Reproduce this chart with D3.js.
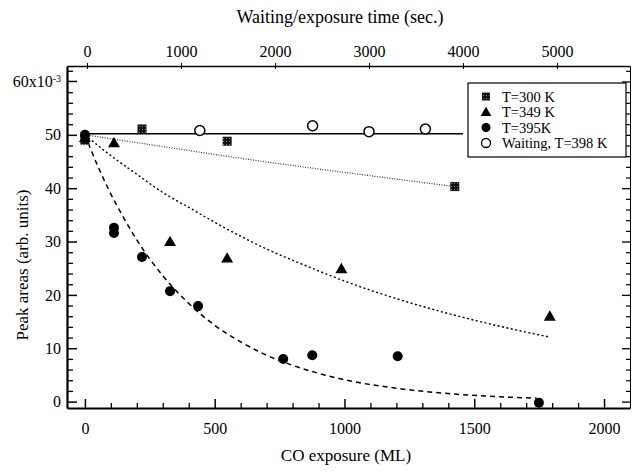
<!DOCTYPE html>
<html>
<head>
<meta charset="utf-8">
<script src="https://cdn.jsdelivr.net/npm/d3@7"></script>
<style>
  body { margin: 0; background: #fff; }
  svg { display: block; font-family: 'Liberation Serif', 'Times New Roman', serif; }
</style>
</head>
<body>
<div id="chart"></div>
<script>
// Tick values
var exposureTicks = [0, 500, 1000, 1500, 2000];
var timeTicks = [0, 1000, 2000, 3000, 4000, 5000];
var yTicks = [0, 10, 20, 30, 40, 50];

// T=300 K (squares), CO exposure in ML
var t300X = [0, 220, 548, 1425];
var t300Y = [49.0, 51.1, 48.8, 40.3];

// T=349 K (triangles)
var t349X = [0, 112, 328, 548, 988, 1791];
var t349Y = [49.5, 48.5, 30.0, 26.9, 24.9, 16.0];

// T=395K (filled circles)
var t395X = [0, 112, 112, 220, 328, 436, 764, 876, 1205, 1749];
var t395Y = [50.0, 31.6, 32.6, 27.1, 20.7, 17.9, 8.0, 8.7, 8.5, -0.2];

// Waiting, T=398 K (open circles), time in seconds
var waitX = [1200, 2400, 3000, 3600];
var waitY = [50.8, 51.7, 50.6, 51.1];

// Fitted curves
var fit300X = [0, 300, 600, 900, 1200, 1425];
var fit300Y = [50.0, 47.8, 45.6, 43.6, 41.7, 40.3];

var fit349X = [0, 100, 200, 300, 400, 500, 600, 700, 800, 900, 1000, 1200, 1400, 1600, 1790];
var fit349Y = [50.0, 46.1, 42.6, 39.2, 36.4, 33.6, 31.0, 28.6, 26.5, 24.5, 22.6, 19.3, 16.5, 14.1, 12.1];

var fit395X = [0, 50, 100, 150, 200, 300, 400, 500, 600, 700, 800, 900, 1000, 1200, 1400, 1600, 1740];
var fit395Y = [50.0, 44.1, 38.9, 34.4, 30.3, 23.6, 18.4, 14.3, 11.2, 8.7, 6.8, 5.3, 4.1, 2.5, 1.5, 0.9, 0.65];

var waitLineX = [0, 4000];
var waitLineY = [50.2, 50.2];

var margin = { top: 66, right: 4, bottom: 64, left: 67 },
  width = 634 - margin.left - margin.right,
  height = 472 - margin.top - margin.bottom;

var svg = d3.select('#chart').append('svg')
  .attr('width', 634)
  .attr('height', 472);

var defs = svg.append('defs');
var pat = defs.append('pattern')
  .attr('id', 'checker')
  .attr('width', 3).attr('height', 3)
  .attr('patternUnits', 'userSpaceOnUse');
pat.append('rect').attr('width', 3).attr('height', 3).attr('fill', '#111');
pat.append('rect').attr('width', 1).attr('height', 1).attr('fill', '#888');

var g = svg.append('g')
  .attr('transform', 'translate(' + margin.left + ',' + margin.top + ')');

var x = d3.scaleLinear().domain([-69, 2100]).range([0, width]);
var xTop = d3.scaleLinear().domain([-213, 5777]).range([0, width]);
var y = d3.scaleLinear().domain([-1.2, 62.9]).range([height, 0]);

var fmt = d3.format('d');

// Axes
var bottomMinor = d3.range(0, 2100, 100).filter(function (d) { return d % 500 !== 0; });
var yMinor = d3.range(0, 63, 2).filter(function (d) { return d % 10 !== 0; });

function styleAxis(sel, w) {
  sel.select('.domain').attr('stroke', '#000').attr('stroke-width', w);
  sel.selectAll('.tick line').attr('stroke', '#000').attr('stroke-width', 1.5);
  sel.selectAll('.tick text').attr('fill', '#000').attr('font-size', '16px')
    .attr('font-family', "'Liberation Serif', serif");
}

var xAxisG = g.append('g')
  .attr('transform', 'translate(0,' + height + ')')
  .call(d3.axisBottom(x).tickValues(exposureTicks).tickFormat(fmt).tickSizeInner(-9).tickSizeOuter(0).tickPadding(15));
styleAxis(xAxisG, 2.2);
g.append('g')
  .attr('transform', 'translate(0,' + height + ')')
  .call(d3.axisBottom(x).tickValues(bottomMinor).tickSizeInner(-5).tickSizeOuter(0).tickFormat(''))
  .call(function (s) { s.select('.domain').remove(); s.selectAll('line').attr('stroke', '#000').attr('stroke-width', 1.3); });

var topAxisG = g.append('g')
  .call(d3.axisTop(xTop).tickValues(timeTicks).tickFormat(fmt).tickSizeInner(4).tickSizeOuter(0).tickPadding(5));
styleAxis(topAxisG, 1.5);
topAxisG.selectAll('.tick line').attr('y1', 3).attr('y2', -3).attr('stroke-width', 1);

var yAxisG = g.append('g')
  .call(d3.axisLeft(y).tickValues(yTicks).tickFormat(fmt).tickSizeInner(-10).tickSizeOuter(0).tickPadding(6));
styleAxis(yAxisG, 2.2);
g.append('g')
  .call(d3.axisLeft(y).tickValues(yMinor).tickSizeInner(-6).tickSizeOuter(0).tickFormat(''))
  .call(function (s) { s.select('.domain').remove(); s.selectAll('line').attr('stroke', '#000').attr('stroke-width', 1.3); });

// 60x10^-3 label
var top60 = g.append('g').attr('transform', 'translate(0,' + y(60) + ')');
top60.append('line').attr('x1', 0).attr('x2', 10).attr('stroke', '#000').attr('stroke-width', 1.5);
var lbl = top60.append('text')
  .attr('x', -6).attr('dy', '0.32em')
  .attr('text-anchor', 'end')
  .attr('font-size', '16px');
lbl.append('tspan').text('60x10');
lbl.append('tspan').attr('dy', '-0.45em').attr('font-size', '10px').text('-3');

// Right axis mirrors left
var rightG = g.append('g')
  .attr('transform', 'translate(' + width + ',0)')
  .call(d3.axisRight(y).tickValues(yTicks.concat([60])).tickSizeInner(-8).tickSizeOuter(0).tickFormat(''));
rightG.select('.domain').attr('stroke', '#000').attr('stroke-width', 1);
rightG.selectAll('line').attr('stroke', '#000').attr('stroke-width', 1.3);
g.append('g')
  .attr('transform', 'translate(' + width + ',0)')
  .call(d3.axisRight(y).tickValues(yMinor).tickSizeInner(-4).tickSizeOuter(0).tickFormat(''))
  .call(function (s) { s.select('.domain').remove(); s.selectAll('line').attr('stroke', '#000').attr('stroke-width', 1.2); });

// Fit lines
var line = d3.line().curve(d3.curveMonotoneX);

function pts(xs, ys, sx) {
  return xs.map(function (d, i) { return [sx(d), y(ys[i])]; });
}

g.append('path')
  .attr('d', line(pts(waitLineX, waitLineY, xTop)))
  .attr('fill', 'none').attr('stroke', '#000').attr('stroke-width', 1.5);

g.append('path')
  .attr('d', line(pts(fit300X, fit300Y, x)))
  .attr('fill', 'none').attr('stroke', '#333').attr('stroke-width', 1.2)
  .attr('stroke-dasharray', '1,1.5');

g.append('path')
  .attr('d', line(pts(fit349X, fit349Y, x)))
  .attr('fill', 'none').attr('stroke', '#000').attr('stroke-width', 1.4)
  .attr('stroke-dasharray', '2,2.5');

g.append('path')
  .attr('d', line(pts(fit395X, fit395Y, x)))
  .attr('fill', 'none').attr('stroke', '#000').attr('stroke-width', 1.5)
  .attr('stroke-dasharray', '5,4');

// Markers
var triangle = d3.symbol().type(d3.symbolTriangle).size(62);

g.selectAll('.wait')
  .data(waitX).enter().append('circle')
  .attr('cx', function (d) { return xTop(d); })
  .attr('cy', function (d, i) { return y(waitY[i]); })
  .attr('r', 5)
  .attr('fill', '#fff').attr('stroke', '#000').attr('stroke-width', 1.5);

g.selectAll('.sq')
  .data(t300X).enter().append('rect')
  .attr('x', function (d) { return x(d) - 4.5; })
  .attr('y', function (d, i) { return y(t300Y[i]) - 4.5; })
  .attr('width', 9).attr('height', 9)
  .attr('fill', 'url(#checker)');

g.selectAll('.tri')
  .data(t349X).enter().append('path')
  .attr('d', triangle)
  .attr('transform', function (d, i) { return 'translate(' + x(d) + ',' + (y(t349Y[i]) + 1) + ')'; })
  .attr('fill', '#000');

g.selectAll('.dot')
  .data(t395X).enter().append('circle')
  .attr('cx', function (d) { return x(d); })
  .attr('cy', function (d, i) { return y(t395Y[i]); })
  .attr('r', 5)
  .attr('fill', '#000');

// Legend
var legend = svg.append('g').attr('transform', 'translate(468,83)');
legend.append('rect')
  .attr('width', 158).attr('height', 74)
  .attr('fill', '#fff').attr('stroke', '#000').attr('stroke-width', 1.2);

var legendLabels = ['T=300 K', 'T=349 K', 'T=395K', 'Waiting, T=398 K'];
legendLabels.forEach(function (label, i) {
  var ry = 13.5 + i * 15.5;
  var mx = 18;
  if (i === 0) {
    legend.append('rect').attr('x', mx - 4).attr('y', ry - 4).attr('width', 8).attr('height', 8).attr('fill', 'url(#checker)');
  } else if (i === 1) {
    legend.append('path').attr('d', d3.symbol().type(d3.symbolTriangle).size(50))
      .attr('transform', 'translate(' + mx + ',' + (ry + 1) + ')').attr('fill', '#000');
  } else if (i === 2) {
    legend.append('circle').attr('cx', mx).attr('cy', ry).attr('r', 4.5).attr('fill', '#000');
  } else {
    legend.append('circle').attr('cx', mx).attr('cy', ry).attr('r', 4.5)
      .attr('fill', '#fff').attr('stroke', '#000').attr('stroke-width', 1.3);
  }
  legend.append('text')
    .attr('x', 34).attr('y', ry).attr('dy', '0.35em')
    .attr('font-size', '14.5px')
    .text(label);
});

// Axis titles
svg.append('text')
  .attr('x', 340).attr('y', 23)
  .attr('text-anchor', 'middle')
  .attr('font-size', '18px')
  .text('Waiting/exposure time (sec.)');

svg.append('text')
  .attr('x', 346).attr('y', 461)
  .attr('text-anchor', 'middle')
  .attr('font-size', '17px')
  .text('CO exposure (ML)');

svg.append('text')
  .attr('transform', 'translate(28,265) rotate(-90)')
  .attr('text-anchor', 'middle')
  .attr('font-size', '17px')
  .text('Peak areas (arb. units)');
</script>
</body>
</html>
